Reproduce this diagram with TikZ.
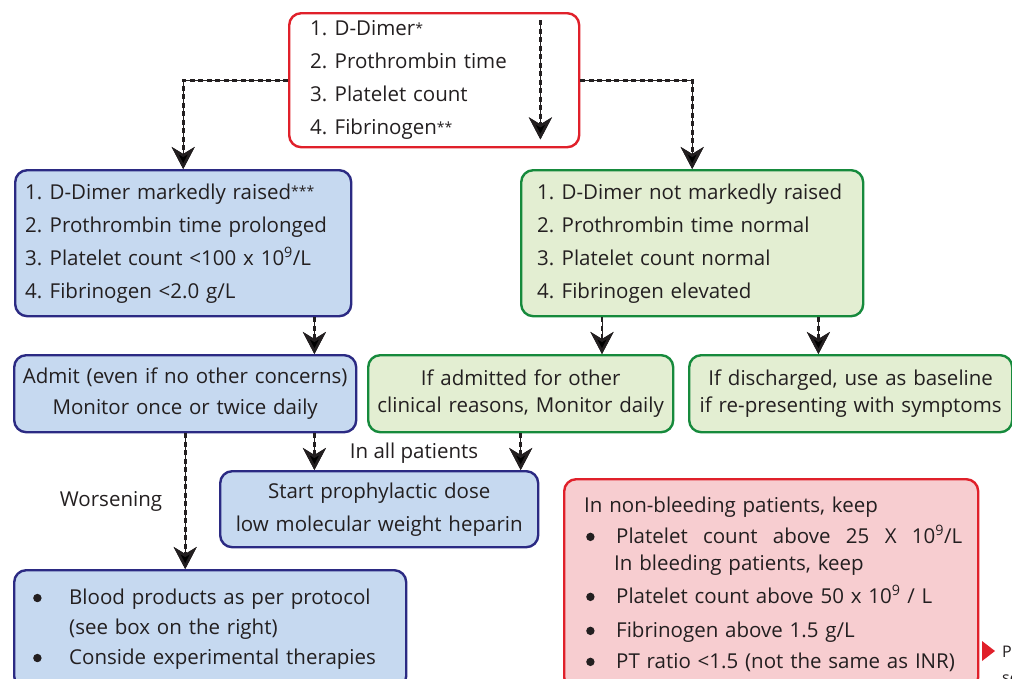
\documentclass[tikz,border=0pt]{standalone}
\usepackage{fontspec}
\setmainfont{Open Sans}
\usetikzlibrary{arrows.meta,calc}
\definecolor{myred}{HTML}{E0202A}
\definecolor{redfill}{HTML}{F7CDD0}
\definecolor{myblue}{HTML}{2B2A83}
\definecolor{bluefill}{HTML}{C6D9F0}
\definecolor{mygreen}{HTML}{168A3C}
\definecolor{greenfill}{HTML}{E3EED2}
\definecolor{txt}{HTML}{231F20}
\newcommand\myitem[1]{\makebox[24.5pt][l]{#1}}
\newcommand\myast[1]{{\fontsize{14}{14}\selectfont\raisebox{2.5pt}{#1}}}
\newcommand\mybul{\tikz[x=1pt,y=1pt,baseline=0pt]\fill[txt] (4,6.5) circle (4.2);}
\tikzset{
  box/.style={rectangle, rounded corners=12pt, line width=2.4pt, inner ysep=0pt, text=txt,
    font=\fontsize{20.5}{33}\selectfont, anchor=north west},
  redbox/.style={box, draw=myred, fill=white},
  pinkbox/.style={box, draw=myred, fill=redfill},
  bluebox/.style={box, draw=myblue, fill=bluefill},
  greenbox/.style={box, draw=mygreen, fill=greenfill},
  conn/.style={draw=txt, line width=2.6pt, dash pattern=on 5pt off 3.5pt,
    preaction={draw=txt, line width=0.8pt, solid},
    -{Stealth[length=22pt, width=23pt, inset=7pt]}},
  lbl/.style={text=txt, font=\fontsize{20.5}{23}\selectfont, inner sep=0pt}
}
\begin{document}
\begin{tikzpicture}[x=1pt, y=-1pt]
\useasboundingbox (0,0) rectangle (1012,678);
\clip (0,0) rectangle (1012,678);

% top box
\node[redbox, minimum width=290pt, minimum height=134pt, inner xsep=21pt, text width=248pt, align=left]
  (top) at (288,12) {\myitem{1.}D-Dimer\myast{*}\\ \myitem{2.}Prothrombin time\\ \myitem{3.}Platelet count\\ \myitem{4.}Fibrinogen\myast{**}};

% row 2
\node[bluebox, minimum width=336pt, minimum height=146pt, inner xsep=10pt, text width=316pt, align=left]
  (b1) at (14,169) {\myitem{1.}D-Dimer markedly raised\myast{***}\\ \myitem{2.}Prothrombin time prolonged\\ \myitem{3.}Platelet count <100 x 10\textsuperscript{9}/L\\ \myitem{4.}Fibrinogen <2.0 g/L};
\node[greenbox, minimum width=342pt, minimum height=146pt, inner xsep=16pt, text width=310pt, align=left]
  (g1) at (520,169) {\myitem{1.}D-Dimer not markedly raised\\ \myitem{2.}Prothrombin time normal\\ \myitem{3.}Platelet count normal\\ \myitem{4.}Fibrinogen elevated};

% row 3
\node[bluebox, minimum width=342pt, minimum height=77pt, inner xsep=0pt, text width=342pt, align=center,
  font=\fontsize{20.5}{31}\selectfont]
  (admit) at (13,354) {Admit (even if no other concerns)\\ Monitor once or twice daily};
\node[greenbox, minimum width=305pt, minimum height=77pt, inner xsep=0pt, text width=305pt, align=center,
  font=\fontsize{20.5}{27}\selectfont]
  (g2) at (367,354) {If admitted for other\\ clinical reasons, Monitor daily};
\node[greenbox, minimum width=323pt, minimum height=77pt, inner xsep=0pt, text width=323pt, align=center,
  font=\fontsize{20.5}{27}\selectfont]
  (g3) at (688,354) {If discharged, use as baseline\\ if re-presenting with symptoms};

% row 4
\node[bluebox, minimum width=318pt, minimum height=76pt, inner xsep=0pt, text width=318pt, align=center]
  (start) at (219,470) {Start prophylactic dose\\ low molecular weight heparin};

\node[bluebox, minimum width=392pt, minimum height=118pt, inner xsep=0pt, text width=392pt, align=left,
  font=\fontsize{20.5}{30}\selectfont]
  (blood) at (13,569) {\hspace*{19pt}\makebox[36pt][l]{\mybul}Blood products as per protocol\\
   \hspace*{55pt}(see box on the right)\\
   \hspace*{19pt}\makebox[36pt][l]{\mybul}Conside experimental therapies};

\node[pinkbox, minimum width=414pt, minimum height=210pt, inner xsep=0pt, text width=414pt, align=left,
  font=\fontsize{20.5}{31}\selectfont]
  (keep) at (563,478) {\hspace*{20pt}In non-bleeding patients, keep\\
   \hspace*{22pt}\makebox[30pt][l]{\mybul}\makebox[346pt][l]{Platelet\hfill count\hfill above\hfill 25\hfill X\hfill 10\textsuperscript{9}/L}\\[-4pt]
   \hspace*{50pt}In bleeding patients, keep\\[2pt]
   \hspace*{22pt}\makebox[30pt][l]{\mybul}Platelet count above 50 x 10\textsuperscript{9} / L\\[3pt]
   \hspace*{22pt}\makebox[30pt][l]{\mybul}Fibrinogen above 1.5 g/L\\
   \hspace*{22pt}\makebox[30pt][l]{\mybul}PT ratio <1.5 (not the same as INR)};

% connectors
\coordinate (inA) at ($(top.north east)+(-40,8)$);
\coordinate (inB) at ($(top.south east)+(-40,-9)$);
\draw[conn] (inA) -- (inB);
\draw[conn] (top.west) -| (b1.north);
\draw[conn] (top.east) -| (g1.north);
\draw[conn] ([xshift=-38pt]b1.south east) -- ([xshift=-38pt]b1.south east |- admit.north);
\draw[conn] ([xshift=82pt]g1.south west) -- ([xshift=82pt]g1.south west |- g2.north);
\draw[conn] ([xshift=-46pt]g1.south east) -- ([xshift=-46pt]g1.south east |- g3.north);
\draw[conn] ([xshift=-43pt]admit.south east) -- ([xshift=-43pt]admit.south east |- start.north);
\draw[conn] (g2.south) -- (g2.south |- start.north);
\draw[conn] (admit.south) -- (admit.south |- blood.north);

\node[lbl] (allpat) at (414,453) {In all patients};
\node[lbl] (worse) at (111,501) {Worsening};

% cut-off pointer at bottom right
\fill[myred] (982,641) -- (982,661) -- (995,651) -- cycle;
\node[lbl, anchor=base west, font=\fontsize{16}{16}\selectfont] (pP) at (1002,657) {P};
\node[lbl, anchor=base west, font=\fontsize{16}{16}\selectfont] (pse) at (1002,683) {se};
\end{tikzpicture}
\end{document}
